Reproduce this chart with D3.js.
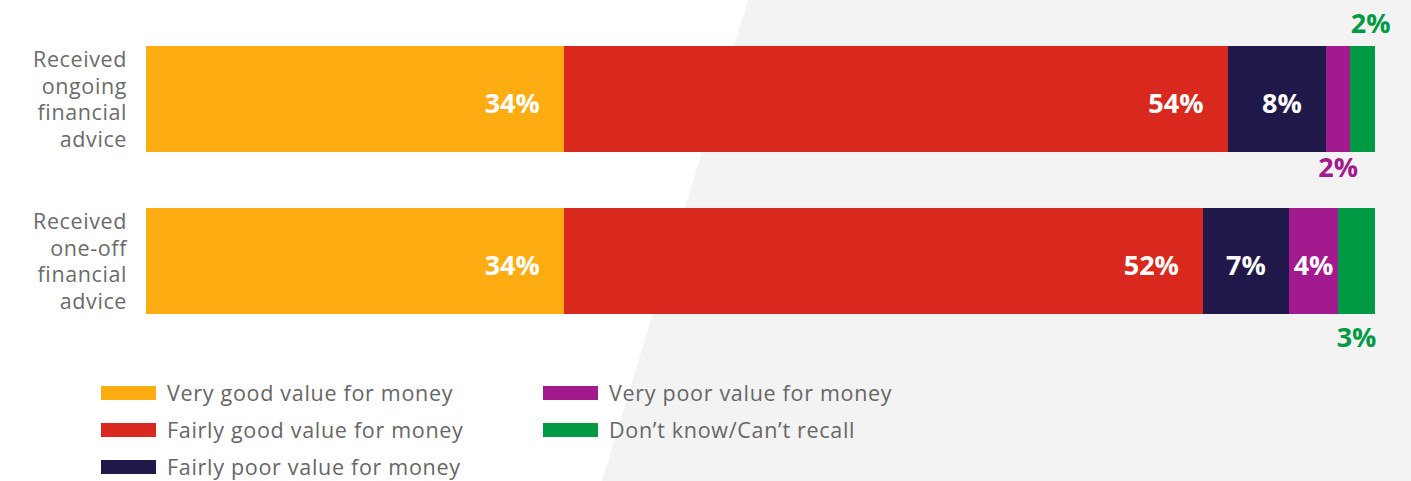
<!DOCTYPE html>
<html>
<head>
<meta charset="utf-8">
<script src="https://cdn.jsdelivr.net/npm/d3@7/dist/d3.min.js"></script>
<style>
  html, body { margin: 0; padding: 0; background: #ffffff; }
  svg { display: block; }
</style>
</head>
<body>
<svg id="chart" width="1411" height="481"></svg>
<script>
// Survey responses: perceived value for money of financial advice (%)
const categories = ["Received ongoing financial advice", "Received one-off financial advice"];
const seriesNames = [
  "Very good value for money",
  "Fairly good value for money",
  "Fairly poor value for money",
  "Very poor value for money",
  "Don\u2019t know/Can\u2019t recall"
];
const veryGood   = [34, 34];
const fairlyGood = [54, 52];
const fairlyPoor = [8, 7];
const veryPoor   = [2, 4];
const dontKnow   = [2, 3];
const seriesColors = ["#fdad11", "#d9281d", "#1f1848", "#a3198e", "#009a44"];

const seriesValues = [veryGood, fairlyGood, fairlyPoor, veryPoor, dontKnow];
const rows = categories.map((c, i) => {
  const r = { category: c };
  seriesNames.forEach((s, j) => r[s] = seriesValues[j][i]);
  return r;
});

const W = 1411, H = 481;
const svg = d3.select("#chart");
const FONT = "'Open Sans', 'Noto Sans', sans-serif";

// light grey diagonal panel behind the right side
svg.append("polygon")
  .attr("points", [[748, 0], [W, 0], [W, H], [602, H]].map(p => p.join(",")).join(" "))
  .attr("fill", "#f3f3f3");

const x = d3.scaleLinear().domain([0, 100]).range([146, 1375]);
const y = d3.scaleBand().domain(categories).range([46, 314]).paddingInner(0.3457).paddingOuter(0);

const stack = d3.stack().keys(seriesNames);
const stacked = stack(rows);
const color = d3.scaleOrdinal().domain(seriesNames).range(seriesColors);

const g = svg.append("g");

// segments
const layers = g.selectAll("g.layer").data(stacked).join("g")
  .attr("class", "layer")
  .attr("fill", d => color(d.key));
layers.selectAll("rect").data(d => d.map(v => ({ key: d.key, v }))).join("rect")
  .attr("x", d => x(d.v[0]))
  .attr("y", d => y(d.v.data.category))
  .attr("width", d => x(d.v[1]) - x(d.v[0]))
  .attr("height", y.bandwidth())
  .attr("shape-rendering", "crispEdges");

// category labels, one word per line, right aligned
const lineH = 26.6;
categories.forEach(c => {
  const words = c.split(" ");
  const cy = y(c) + y.bandwidth() / 2;
  const t = svg.append("text")
    .attr("text-anchor", "end")
    .attr("font-family", FONT)
    .attr("font-size", 21.5)
    .attr("letter-spacing", 0.6)
    .attr("fill", "#6b6b6b");
  words.forEach((w, i) => {
    t.append("tspan")
      .attr("x", 127)
      .attr("y", cy + 8 + (i - (words.length - 1) / 2) * lineH)
      .text(w);
  });
});

// value labels: inside the segment when it fits, otherwise just outside the bar
const labelG = svg.append("g")
  .attr("font-family", FONT)
  .attr("font-weight", 700)
  .attr("font-size", 27);

categories.forEach((c, ri) => {
  const top = y(c), bot = top + y.bandwidth(), cy = top + y.bandwidth() / 2;
  const isLast = ri === categories.length - 1;
  const outside = [];
  stacked.forEach(layer => {
    const v = layer[ri];
    const x0 = x(v[0]), x1 = x(v[1]), w = x1 - x0;
    const label = (v[1] - v[0]) + "%";
    const t = labelG.append("text").text(label).attr("fill", "#ffffff");
    const tw = t.node().getComputedTextLength();
    if (w >= tw + 8) {
      const pad = Math.min(24, (w - tw) / 2);
      t.attr("text-anchor", "end").attr("x", x1 - pad).attr("y", cy + 14);
    } else {
      t.remove();
      outside.push({ label, cx: (x0 + x1) / 2, col: color(layer.key) });
    }
  });
  outside.forEach((o, k) => {
    const above = outside.length > 1 && k === outside.length - 1;
    labelG.append("text")
      .attr("text-anchor", "middle")
      .attr("x", above ? o.cx + 8 : o.cx)
      .attr("y", above ? top - 13 : bot + (isLast ? 33 : 25))
      .attr("fill", o.col)
      .text(o.label);
  });
});

// legend: two columns
const legendCols = [[0, 1, 2], [3, 4]];
const colX = [101, 543];
const rowY = [393, 430, 467];
const legend = svg.append("g").attr("font-family", FONT).attr("font-size", 21.5)
  .attr("letter-spacing", 0.7).attr("fill", "#666666");
legendCols.forEach((col, ci) => {
  col.forEach((si, ri) => {
    const item = legend.append("g").attr("transform", `translate(${colX[ci]},${rowY[ri]})`);
    item.append("rect").attr("x", 0).attr("y", -7).attr("width", 55).attr("height", 14)
      .attr("fill", seriesColors[si]);
    item.append("text").attr("x", 66).attr("y", 8).text(seriesNames[si]);
  });
});
</script>
</body>
</html>
